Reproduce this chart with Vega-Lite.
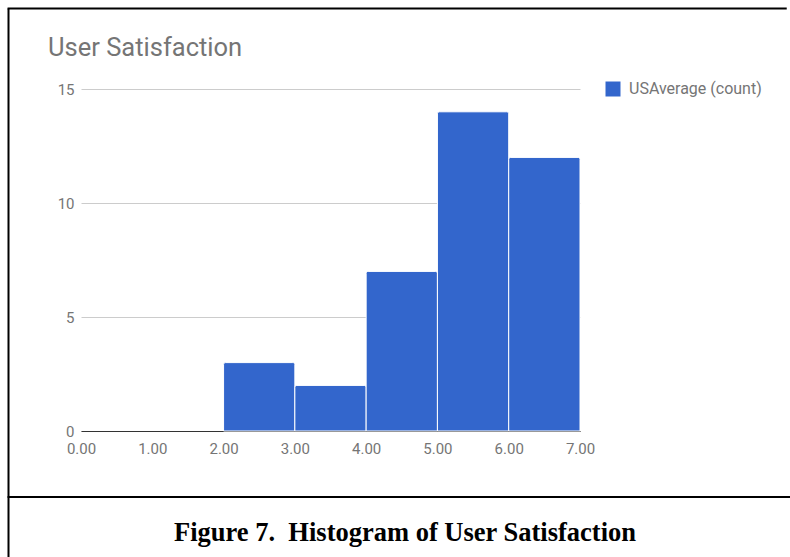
{
  "$schema": "https://vega.github.io/schema/vega-lite/v6.json",
  "width": 499,
  "height": 342,
  "autosize": {"type": "none"},
  "padding": {"left": 81, "top": 89, "right": 210, "bottom": 126},
  "background": "white",
  "config": {"view": {"stroke": null}, "font": "Roboto"},
  "title": {
    "text": "User Satisfaction",
    "anchor": "start",
    "frame": "group",
    "dx": -33,
    "offset": -74,
    "fontSize": 25.5,
    "fontWeight": "normal",
    "color": "#757575",
    "font": "Roboto",
    "baseline": "alphabetic"
  },
  "data": {
    "values": [
      {"bin_start": 2, "bin_end": 3, "count": 3, "series": "USAverage (count)"},
      {"bin_start": 3, "bin_end": 4, "count": 2, "series": "USAverage (count)"},
      {"bin_start": 4, "bin_end": 5, "count": 7, "series": "USAverage (count)"},
      {"bin_start": 5, "bin_end": 6, "count": 14, "series": "USAverage (count)"},
      {"bin_start": 6, "bin_end": 7, "count": 12, "series": "USAverage (count)"}
    ]
  },
  "layer": [
    {
      "mark": {"type": "bar", "stroke": "white", "strokeWidth": 1, "cornerRadiusTopLeft": 2, "cornerRadiusTopRight": 2},
      "encoding": {
        "x": {
          "field": "bin_start",
          "type": "quantitative",
          "scale": {"domain": [0, 7], "nice": false, "zero": false},
          "axis": {
            "values": [0, 1, 2, 3, 4, 5, 6, 7],
            "format": ".2f",
            "labelColor": "#757575",
            "labelFontSize": 15,
            "labelFont": "Roboto",
            "labelPadding": 10,
            "labelFlush": false,
            "labelOverlap": false,
            "ticks": false,
            "domainColor": "#333333",
            "grid": false,
            "title": "Figure 7.\u00a0 Histogram of User Satisfaction",
            "titleFont": "Liberation Serif",
            "titleFontSize": 26.5,
            "titleFontWeight": "bold",
            "titleColor": "black",
            "titleX": 323.5,
            "titleY": 109,
            "titleBaseline": "alphabetic",
            "titleAlign": "center"
          }
        },
        "x2": {"field": "bin_end"},
        "y": {
          "field": "count",
          "type": "quantitative",
          "scale": {"domain": [0, 15], "nice": false},
          "axis": {
            "values": [0, 5, 10, 15],
            "labelColor": "#757575",
            "labelFontSize": 15,
            "labelFont": "Roboto",
            "labelPadding": 7,
            "ticks": false,
            "domain": false,
            "gridColor": "#cccccc",
            "title": null
          }
        },
        "y2": {"datum": 0},
        "color": {
          "field": "series",
          "type": "nominal",
          "scale": {"range": ["#3366cc"]},
          "legend": {
            "orient": "none",
            "legendX": 524,
            "legendY": -8,
            "title": null,
            "symbolType": "square",
            "symbolSize": 225,
            "symbolStrokeWidth": 0,
            "symbolOpacity": 1,
            "labelFontSize": 16,
            "labelColor": "#757575",
            "labelFont": "Roboto",
            "labelOffset": 8,
            "padding": 0
          }
        }
      }
    },
    {
      "data": {"values": [{}]},
      "mark": {"type": "rule", "color": "black", "strokeWidth": 2},
      "encoding": {"x": {"datum": -1.017}, "y": {"datum": 18.53}, "y2": {"datum": -5.6}}
    },
    {
      "data": {"values": [{}]},
      "mark": {"type": "rule", "color": "black", "strokeWidth": 2},
      "encoding": {"x": {"datum": -1.03}, "x2": {"datum": 9.9}, "y": {"datum": 18.53}}
    },
    {
      "data": {"values": [{}]},
      "mark": {"type": "rule", "color": "black", "strokeWidth": 2},
      "encoding": {"x": {"datum": -1.03}, "x2": {"datum": 10}, "y": {"datum": -2.89}}
    }
  ]
}
